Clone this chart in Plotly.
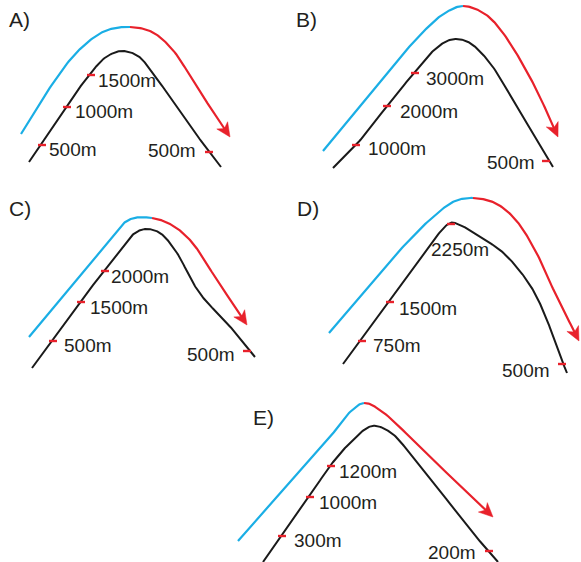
import plotly.graph_objects as go
import math

W, H = 581, 562
BLUE = "#1aaee5"
RED = "#e8212b"
BLACK = "#1a1a1a"
TEXT = "#231f20"
FONT = "Liberation Sans, Arial, sans-serif"

panel_names = ["A)", "B)", "C)", "D)", "E)"]
panel_name_pos = [(7, 19), (294, 19), (7, 208), (295, 208), (251, 417)]

# mountain profiles (x, y in picture pixels)
mountain_A = [(29,162),(66,107),(90,74),(106,57),(122,51),(138,56),(152,72),(190,126),(221,167)]
mountain_B = [(333,168),(356,145),(387,106),(414,73),(432,52),(447,41),(457,39),(470,43),(490,63),(517,107),(553,167)]
mountain_C = [(32,368),(80,302),(104,271),(120,250),(135,233),(146,229),(160,233),(177,253),(193,283),(205,300),(227,323),(255,357)]
mountain_D = [(343,364),(387,304),(427,249),(450,223),(458,224),(480,237),(500,250),(515,265),(533,290),(547,320),(557,348),(567,373)]
mountain_E = [(263,562),(309,497),(330,466),(350,443),(372,426),(390,432),(413,457),(473,533),(498,562)]

# windward (blue) and leeward (red) air paths
wind_up_A = [(21,134),(45,95),(77,52),(105,31),(130,27)]
wind_down_A = [(130,27),(152,32),(172,49),(200,92),(230,137)]
wind_up_B = [(323,151),(373,90),(423,32),(445,13),(463,6)]
wind_down_B = [(463,6),(485,14),(503,33),(533,83),(558,137)]
wind_up_C = [(29,337),(110,240),(124,223),(134,218),(152,218)]
wind_down_C = [(152,218),(170,224),(190,240),(217,280),(247,325)]
wind_up_D = [(329,333),(400,250),(433,217),(455,201),(473,198)]
wind_down_D = [(473,198),(495,203),(515,219),(535,250),(555,293),(579,341)]
wind_up_E = [(238,541),(330,437),(350,412),(364,403)]
wind_down_E = [(364,403),(380,410),(430,457),(493,517)]

# elevation labels
labels_A = ["1500m", "1000m", "500m", "500m"]
labels_B = ["3000m", "2000m", "1000m", "500m"]
labels_C = ["2000m", "1500m", "500m", "500m"]
labels_D = ["2250m", "1500m", "750m", "500m"]
labels_E = ["1200m", "1000m", "300m", "200m"]

# tick marks (left end x, y) and label anchors (x, y, anchor)
ticks_A = [(87,75),(63,107),(38,145),(205,152)]
text_A = [(96,80,"left"),(73,111,"left"),(47,149,"left"),(198,150,"right")]
ticks_B = [(411,73),(383,106),(352,145),(542,161)]
text_B = [(424,78,"left"),(398,111,"left"),(366,148,"left"),(537,162,"right")]
ticks_C = [(101,271),(77,302),(49,341),(243,351)]
text_C = [(109,276,"left"),(88,307,"left"),(62,345,"left"),(237,354,"right")]
ticks_D = [(447,224),(386,302),(358,341),(558,364)]
text_D = [(429,249,"left"),(397,308,"left"),(371,345,"left"),(552,370,"right")]
ticks_E = [(327,466),(306,497),(278,536),(485,551)]
text_E = [(337,471,"left"),(317,502,"left"),(292,540,"left"),(478,552,"right")]

panels = [
    (mountain_A, wind_up_A, wind_down_A, labels_A, ticks_A, text_A),
    (mountain_B, wind_up_B, wind_down_B, labels_B, ticks_B, text_B),
    (mountain_C, wind_up_C, wind_down_C, labels_C, ticks_C, text_C),
    (mountain_D, wind_up_D, wind_down_D, labels_D, ticks_D, text_D),
    (mountain_E, wind_up_E, wind_down_E, labels_E, ticks_E, text_E),
]


def catmull(pts, steps=20, alpha=0.5):
    """Centripetal Catmull-Rom through the points; returns list of sampled segments."""
    n = len(pts)
    ext = [(2 * pts[0][0] - pts[1][0], 2 * pts[0][1] - pts[1][1])] + list(pts) + \
          [(2 * pts[-1][0] - pts[-2][0], 2 * pts[-1][1] - pts[-2][1])]
    segs = []
    for i in range(n - 1):
        P0, P1, P2, P3 = ext[i], ext[i + 1], ext[i + 2], ext[i + 3]

        def tj(ti, a, b):
            return ti + max(math.hypot(b[0] - a[0], b[1] - a[1]), 1e-6) ** alpha

        t0 = 0.0
        t1 = tj(t0, P0, P1)
        t2 = tj(t1, P1, P2)
        t3 = tj(t2, P2, P3)
        seg = []
        for k in range(steps + 1):
            t = t1 + (t2 - t1) * k / steps

            def lerp(A, B, ta, tb):
                return ((tb - t) / (tb - ta) * A[0] + (t - ta) / (tb - ta) * B[0],
                        (tb - t) / (tb - ta) * A[1] + (t - ta) / (tb - ta) * B[1])
            A1 = lerp(P0, P1, t0, t1)
            A2 = lerp(P1, P2, t1, t2)
            A3 = lerp(P2, P3, t2, t3)
            B1 = lerp(A1, A2, t0, t2)
            B2 = lerp(A2, A3, t1, t3)
            seg.append(lerp(B1, B2, t1, t2))
        segs.append(seg)
    return segs


def flatten(segs):
    out = []
    for s in segs:
        out.extend(s if not out else s[1:])
    return out


fig = go.Figure()


def line(pts, color, width):
    fig.add_trace(go.Scatter(
        x=[p[0] for p in pts], y=[p[1] for p in pts], mode="lines",
        line=dict(color=color, width=width),
        hoverinfo="skip", showlegend=False))


def arrowhead(tip, prev, color):
    (x0, y0), (x1, y1) = prev, tip
    dx, dy = x1 - x0, y1 - y0
    n = math.hypot(dx, dy)
    dx, dy = dx / n, dy / n
    nx, ny = -dy, dx
    L, Wd = 14, 6.5
    poly = [
        (x1, y1),
        (x1 - L * dx + Wd * nx, y1 - L * dy + Wd * ny),
        (x1 - 0.72 * L * dx, y1 - 0.72 * L * dy),
        (x1 - L * dx - Wd * nx, y1 - L * dy - Wd * ny),
        (x1, y1),
    ]
    fig.add_trace(go.Scatter(
        x=[p[0] for p in poly], y=[p[1] for p in poly], mode="lines",
        fill="toself", fillcolor=color, line=dict(color=color, width=0.5),
        hoverinfo="skip", showlegend=False))


for mountain, up, down, labels, ticks, texts in panels:
    line(flatten(catmull(mountain)), BLACK, 2)
    path = up + down[1:]
    segs = catmull(path)
    j = len(up) - 1
    blue = flatten(segs[:j])
    red = flatten(segs[j:])
    line(blue, BLUE, 2.2)
    tip = red[-1]
    back = red[0]
    for p in reversed(red):
        if math.hypot(p[0] - tip[0], p[1] - tip[1]) >= 10:
            back = p
            break
    red_short = [p for p in red if math.hypot(p[0] - tip[0], p[1] - tip[1]) > 8]
    line(red_short, RED, 2.2)
    arrowhead(tip, back, RED)
    for (tx, ty), (lx, ly, anc), lab in zip(ticks, texts, labels):
        fig.add_trace(go.Scatter(
            x=[tx, tx + 8], y=[ty, ty], mode="lines",
            line=dict(color=RED, width=2.4), hoverinfo="skip", showlegend=False))
        fig.add_annotation(x=lx, y=ly, text=lab, showarrow=False,
                           xanchor=anc, yanchor="middle",
                           font=dict(family=FONT, size=19, color=TEXT))

for name, (px, py) in zip(panel_names, panel_name_pos):
    fig.add_annotation(x=px, y=py, text=name, showarrow=False,
                       xanchor="left", yanchor="middle",
                       font=dict(family=FONT, size=21, color=TEXT))

fig.update_layout(
    width=W, height=H, margin=dict(l=0, r=0, t=0, b=0),
    paper_bgcolor="white", plot_bgcolor="white",
    xaxis=dict(range=[0, W], visible=False, fixedrange=True),
    yaxis=dict(range=[H, 0], visible=False, fixedrange=True),
)

fig.write_html(
    "out.html",
    config={"displayModeBar": False},
    post_script="document.body.style.margin='0';document.body.style.overflow='hidden';",
)
